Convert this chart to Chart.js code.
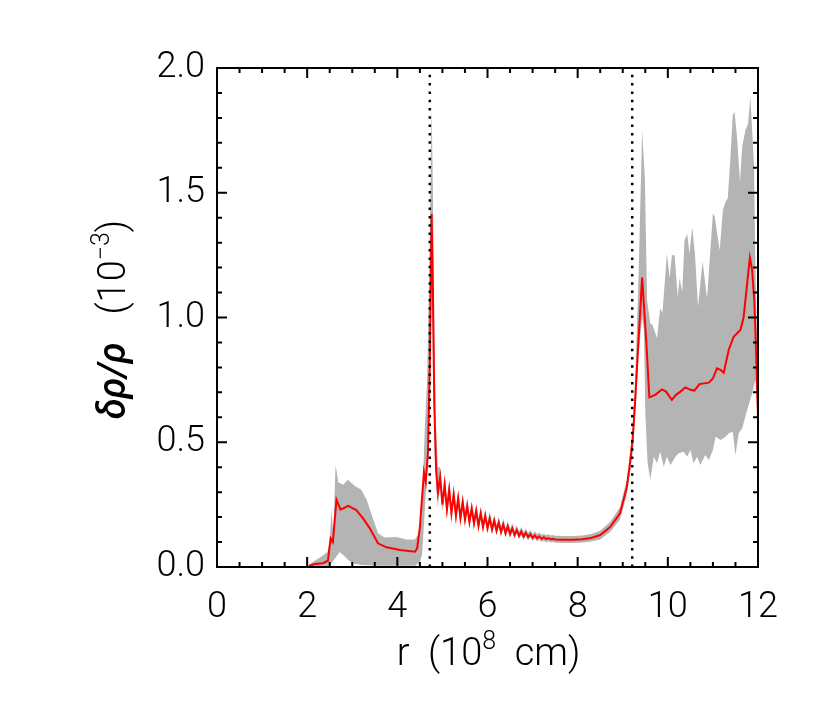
<!DOCTYPE html>
<html><head><meta charset="utf-8">
<script src="https://cdn.jsdelivr.net/npm/chart.js@4.4.0/dist/chart.umd.min.js"></script>
<style>html,body{margin:0;padding:0;background:#fff;}#wrap{width:822px;height:706px;}</style>
</head><body><div id="wrap"><canvas id="c" width="822" height="706"></canvas></div>
<script>
// ---- data (r in 1e8 cm, delta rho / rho in 1e-3) ----
const redR = [2.04,2.17,2.35,2.46,2.52,2.57,2.65,2.74,2.91,3.09,3.24,3.39,3.57,3.76,4.06,4.39,4.44,4.50,4.59,4.63,4.68,4.72,4.76,4.79,4.82,4.86,4.90,
4.95,5.00,5.05,5.10,5.15,5.20,5.25,5.30,5.35,5.40,5.45,5.50,5.55,5.60,5.65,5.70,5.75,5.80,5.85,5.90,5.95,6.00,6.05,6.10,6.15,6.20,6.25,6.30,6.35,6.40,6.45,6.50,6.55,6.60,6.65,6.70,6.75,6.80,6.85,6.90,6.95,7.00,7.05,7.10,7.15,7.20,7.25,7.30,7.35,7.40,7.45,7.50,
7.70,7.90,8.10,8.30,8.50,8.72,8.94,9.09,9.15,9.22,9.28,9.35,9.43,9.52,9.59,9.72,9.87,9.96,10.09,10.18,10.28,10.39,10.50,10.59,10.70,10.91,11.00,11.09,11.17,11.24,11.35,11.46,11.61,11.68,11.76,11.82,11.87,11.92,11.96,12.00];
const redVal = [0.004,0.012,0.015,0.025,0.115,0.10,0.27,0.23,0.245,0.228,0.195,0.155,0.095,0.079,0.068,0.061,0.075,0.16,0.38,0.34,0.46,0.80,1.415,1.10,0.65,0.39,0.30,
0.36,0.25,0.33,0.23,0.31,0.215,0.29,0.205,0.275,0.195,0.26,0.19,0.245,0.18,0.235,0.175,0.225,0.165,0.215,0.16,0.205,0.155,0.195,0.15,0.185,0.145,0.178,0.14,0.17,0.135,0.163,0.132,0.155,0.128,0.148,0.125,0.142,0.122,0.137,0.12,0.132,0.117,0.127,0.115,0.123,0.113,0.119,0.112,0.116,0.111,0.113,0.110,
0.109,0.109,0.111,0.116,0.128,0.16,0.215,0.32,0.40,0.51,0.68,0.91,1.16,0.91,0.68,0.69,0.712,0.703,0.67,0.69,0.703,0.72,0.71,0.707,0.733,0.739,0.756,0.796,0.79,0.779,0.87,0.923,0.95,1.0,1.137,1.24,1.19,1.06,0.85,0.60];

const bandUpR = [2.04,2.30,2.45,2.50,2.54,2.58,2.63,2.69,2.80,2.90,3.06,3.20,3.32,3.43,3.57,3.72,3.98,4.20,4.39,4.48,4.54,4.61,4.66,4.70,4.73,4.76,4.79,4.82,4.86,4.90,
4.95,5.00,5.05,5.10,5.15,5.20,5.25,5.30,5.35,5.40,5.45,5.50,5.55,5.60,5.65,5.70,5.75,5.80,5.85,5.90,5.95,6.00,6.05,6.10,6.15,6.20,6.25,6.30,6.35,6.40,6.45,6.50,6.55,6.60,6.65,6.70,6.75,6.80,6.85,6.90,6.95,7.00,7.05,7.10,7.15,7.20,7.25,7.30,7.35,7.40,7.45,7.50,
7.70,7.90,8.10,8.30,8.50,8.72,8.94,9.09,9.15,9.22,9.28,9.35,9.43,9.49,9.54,9.61,9.66,9.76,9.83,9.88,9.98,10.04,10.09,10.15,10.22,10.26,10.32,10.37,10.43,10.48,10.54,10.60,10.67,10.77,10.87,11.00,11.04,11.15,11.22,11.28,11.33,11.39,11.44,11.48,11.54,11.60,11.65,11.72,11.78,11.83,11.91,11.94,12.00];
const bandUpVal = [0.01,0.04,0.06,0.10,0.23,0.13,0.41,0.34,0.33,0.35,0.325,0.31,0.27,0.21,0.135,0.118,0.12,0.11,0.11,0.135,0.20,0.56,0.75,1.10,1.45,1.85,1.50,0.95,0.55,0.40,
0.40,0.29,0.37,0.265,0.345,0.25,0.325,0.238,0.308,0.227,0.292,0.22,0.275,0.21,0.264,0.203,0.253,0.192,0.242,0.186,0.231,0.18,0.22,0.174,0.209,0.168,0.201,0.162,0.192,0.156,0.184,0.152,0.175,0.147,0.167,0.143,0.16,0.14,0.154,0.137,0.148,0.133,0.143,0.131,0.138,0.128,0.134,0.127,0.131,0.126,0.128,0.125,
0.124,0.124,0.126,0.132,0.145,0.18,0.24,0.35,0.44,0.56,0.78,1.16,1.75,1.56,1.07,0.977,0.97,0.917,1.037,1.017,1.257,1.157,1.25,1.25,1.083,1.157,1.103,1.31,1.335,1.257,1.364,1.257,1.043,1.224,1.077,1.418,1.404,1.27,1.43,1.464,1.478,1.645,1.81,1.825,1.71,1.544,1.685,1.75,1.778,1.885,1.618,1.244,0.75];

const bandLowR = [2.04,2.50,2.60,2.72,2.80,2.90,3.00,3.20,3.60,4.40,4.50,4.55,4.60,4.65,4.70,4.74,4.76,4.79,4.83,4.86,4.90,
4.95,5.00,5.05,5.10,5.15,5.20,5.25,5.30,5.35,5.40,5.45,5.50,5.55,5.60,5.65,5.70,5.75,5.80,5.85,5.90,5.95,6.00,6.05,6.10,6.15,6.20,6.25,6.30,6.35,6.40,6.45,6.50,6.55,6.60,6.65,6.70,6.75,6.80,6.85,6.90,6.95,7.00,7.05,7.10,7.15,7.20,7.25,7.30,7.35,7.40,7.45,7.50,
7.70,7.90,8.10,8.30,8.50,8.72,8.94,9.09,9.15,9.22,9.28,9.35,9.43,9.47,9.50,9.55,9.61,9.69,9.76,9.83,9.91,9.98,10.06,10.17,10.24,10.35,10.43,10.50,10.57,10.65,10.72,10.83,10.91,11.00,11.06,11.17,11.28,11.35,11.44,11.50,11.57,11.65,11.76,11.87,11.94,12.00];
const bandLowVal = [0.0,0.005,0.03,0.06,0.048,0.03,0.015,0.008,0.005,0.005,0.02,0.05,0.20,0.35,0.50,0.95,1.15,0.85,0.45,0.32,0.24,
0.32,0.22,0.30,0.20,0.28,0.19,0.262,0.18,0.25,0.172,0.236,0.167,0.222,0.158,0.213,0.154,0.204,0.145,0.195,0.141,0.186,0.137,0.177,0.133,0.168,0.129,0.161,0.124,0.154,0.12,0.148,0.117,0.141,0.114,0.134,0.111,0.129,0.108,0.124,0.106,0.119,0.104,0.114,0.102,0.11,0.10,0.106,0.099,0.103,0.098,0.10,0.097,
0.096,0.096,0.098,0.102,0.11,0.14,0.19,0.29,0.36,0.46,0.62,0.85,1.0,0.95,0.62,0.42,0.349,0.442,0.416,0.462,0.402,0.442,0.409,0.442,0.456,0.462,0.442,0.469,0.416,0.442,0.409,0.449,0.429,0.469,0.522,0.509,0.522,0.536,0.542,0.449,0.536,0.556,0.629,0.696,0.75,0.58];

const boundaryR = [4.72, 9.21];
const xTickValues = [0,2,4,6,8,10,12];
const xMinorTicks = [0.5,1,1.5,2.5,3,3.5,4.5,5,5.5,6.5,7,7.5,8.5,9,9.5,10.5,11,11.5];
const yTickValues = [0,0.5,1.0,1.5,2.0];
const yMinorTicks = [0.1,0.2,0.3,0.4,0.6,0.7,0.8,0.9,1.1,1.2,1.3,1.4,1.6,1.7,1.8,1.9];
const xTitleParts = ['r  (10', '8', '  cm)'];
const yTitleParts = ['\u03B4\u03C1/\u03C1', '   (10', '\u22123', ')'];

// ---- build datasets ----
const pts = (xs, ys) => xs.map((v, i) => ({x: v, y: ys[i]}));
const bandPoly = pts(bandUpR, bandUpVal).concat(pts(bandLowR, bandLowVal).reverse());

const datasets = [
  {data: bandPoly, borderWidth: 0, backgroundColor: '#b4b4b4', fill: 'shape', pointRadius: 0, tension: 0, order: 3},
  {data: pts(redR, redVal), borderColor: '#ff0000', borderWidth: 2, fill: false, pointRadius: 0, tension: 0, order: 2},
];
boundaryR.forEach(b => datasets.push({data: [{x: b, y: 0}, {x: b, y: 2}], borderColor: '#000', borderWidth: 2.5,
  borderDash: [2.5, 5.8], fill: false, pointRadius: 0, order: 1}));

const FONT = 'Roboto, "Liberation Sans", sans-serif';
const frame = {
  id: 'frame',
  afterDatasetsDraw(chart) {
    const {ctx, chartArea: a, scales: {x, y}} = chart;
    ctx.save();
    ctx.strokeStyle = '#000';
    ctx.lineWidth = 2;
    ctx.strokeRect(a.left, a.top, a.right - a.left, a.bottom - a.top);
    ctx.beginPath();
    const tx = (v, len) => { const p = x.getPixelForValue(v);
      ctx.moveTo(p, a.bottom); ctx.lineTo(p, a.bottom - len);
      ctx.moveTo(p, a.top); ctx.lineTo(p, a.top + len); };
    const ty = (v, len) => { const p = y.getPixelForValue(v);
      ctx.moveTo(a.left, p); ctx.lineTo(a.left + len, p);
      ctx.moveTo(a.right, p); ctx.lineTo(a.right - len, p); };
    xTickValues.forEach(v => tx(v, 10)); xMinorTicks.forEach(v => tx(v, 5));
    yTickValues.forEach(v => ty(v, 10)); yMinorTicks.forEach(v => ty(v, 5));
    ctx.stroke();
    ctx.restore();
  },
  afterDraw(chart) {
    const {ctx, chartArea: a} = chart;
    const big = '300 38px ' + FONT, small = '300 25px ' + FONT, ital = 'italic 500 38px ' + FONT;
    const drawParts = (parts) => {
      let w = 0;
      parts.forEach(p => { ctx.font = p.f; p.w = ctx.measureText(p.t).width; w += p.w; });
      let cx = -w / 2;
      parts.forEach(p => { ctx.font = p.f; ctx.fillText(p.t, cx, p.dy); cx += p.w; });
    };
    ctx.save();
    ctx.fillStyle = '#000';
    ctx.textBaseline = 'alphabetic';
    ctx.textAlign = 'left';
    ctx.translate((a.left + a.right) / 2 + 1, 665);
    drawParts([{t: xTitleParts[0], f: big, dy: 0}, {t: xTitleParts[1], f: small, dy: -16}, {t: xTitleParts[2], f: big, dy: 0}]);
    ctx.restore();
    ctx.save();
    ctx.fillStyle = '#000';
    ctx.textBaseline = 'alphabetic';
    ctx.textAlign = 'left';
    ctx.translate(125, (a.top + a.bottom) / 2 + 2);
    ctx.rotate(-Math.PI / 2);
    drawParts([{t: yTitleParts[0], f: ital, dy: 0}, {t: yTitleParts[1], f: big, dy: 0}, {t: yTitleParts[2], f: small, dy: -16}, {t: yTitleParts[3], f: big, dy: 0}]);
    ctx.restore();
  }
};

const tickFont = {family: 'Roboto, "Liberation Sans", sans-serif', size: 36, weight: 300};
new Chart(document.getElementById('c'), {
  type: 'line',
  data: {datasets},
  plugins: [frame],
  options: {
    responsive: false,
    animation: false,
    layout: {padding: {top: 68, right: 64, left: 0, bottom: 0}},
    plugins: {legend: {display: false}, tooltip: {enabled: false}},
    scales: {
      x: {type: 'linear', min: 0, max: 12,
        afterBuildTicks: s => { s.ticks = xTickValues.map(v => ({value: v})); },
        afterFit: s => { s.height = 139; },
        grid: {display: false, drawTicks: false}, border: {display: false},
        ticks: {color: '#000', font: tickFont, padding: 19, maxRotation: 0,
          callback: v => String(v)}},
      y: {type: 'linear', min: 0, max: 2,
        afterBuildTicks: s => { s.ticks = yTickValues.map(v => ({value: v})); },
        afterFit: s => { s.width = 217; },
        grid: {display: false, drawTicks: false}, border: {display: false},
        ticks: {color: '#000', font: tickFont, padding: 12,
          callback: v => Number(v).toFixed(1)}}
    }
  }
});
</script></body></html>
